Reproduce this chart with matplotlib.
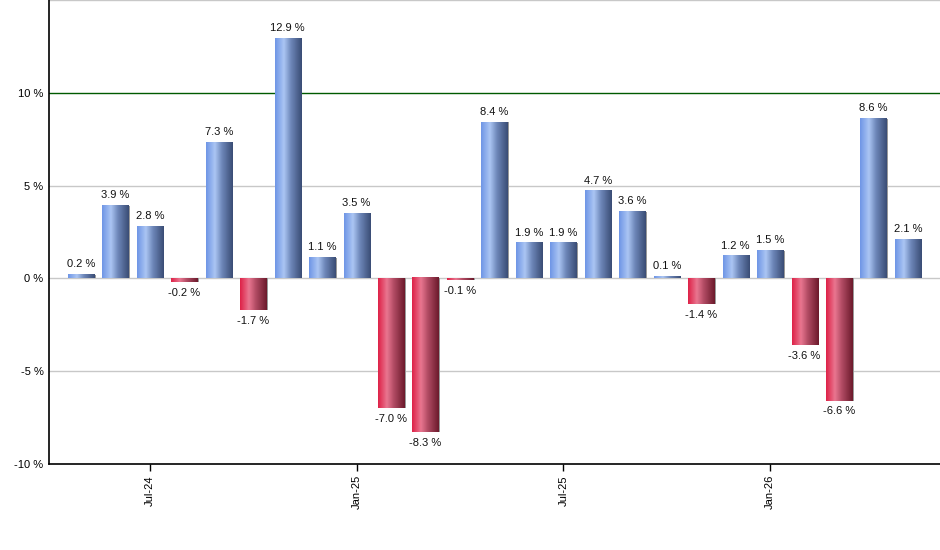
import matplotlib
matplotlib.use("Agg")
import matplotlib.pyplot as plt
import numpy as np
from matplotlib.colors import LinearSegmentedColormap

months = ["May-24", "Jun-24", "Jul-24", "Aug-24", "Sep-24", "Oct-24", "Nov-24", "Dec-24",
          "Jan-25", "Feb-25", "Mar-25", "Apr-25", "May-25", "Jun-25", "Jul-25", "Aug-25",
          "Sep-25", "Oct-25", "Nov-25", "Dec-25", "Jan-26", "Feb-26", "Mar-26", "Apr-26", "May-26"]
returns = [0.2, 3.9, 2.8, -0.2, 7.3, -1.7, 12.9, 1.1, 3.5, -7.0, -8.3, -0.1, 8.4,
           1.9, 1.9, 4.7, 3.6, 0.1, -1.4, 1.2, 1.5, -3.6, -6.6, 8.6, 2.1]
tick_months = ["Jul-24", "Jan-25", "Jul-25", "Jan-26"]
y_ticks = [-10, -5, 0, 5, 10]

plt.rcParams['font.family'] = ['Liberation Sans', 'DejaVu Sans']
FS = 8

fig = plt.figure(figsize=(9.4, 5.5), dpi=100)
ax = fig.add_axes([49/940, 86/550, 1 - 49/940, 1 - 86/550])

blue_cmap = LinearSegmentedColormap.from_list(
    "b", [(0, "#6f96e6"), (0.33, "#abc5f3"), (0.6, "#6d86b8"), (1, "#3a4d75")])
red_cmap = LinearSegmentedColormap.from_list(
    "r", [(0, "#de2248"), (0.33, "#e97690"), (0.6, "#b04a62"), (1, "#6c1a2c")])

grad = np.linspace(0, 1, 64).reshape(1, -1)
w = 0.76
x = np.arange(len(returns))
for xi, v in zip(x, returns):
    cmap = blue_cmap if v >= 0 else red_cmap
    lo, hi = (0, v) if v >= 0 else (v, 0)
    # shadow
    ax.add_patch(plt.Rectangle((xi - w/2 + 0.04, lo), w, hi - lo,
                               facecolor="#9a9a9a", edgecolor="none", zorder=2))
    ax.imshow(grad, cmap=cmap, aspect="auto",
              extent=(xi - w/2, xi + w/2, lo, hi), zorder=3, interpolation="bilinear")
    if v >= 0:
        ax.annotate(f"{v:.1f} %", (xi, v), xytext=(0, 4), textcoords="offset points",
                    ha="center", va="bottom", fontsize=FS, color="#111111")
    else:
        ax.annotate(f"{v:.1f} %", (xi, v), xytext=(0, -4), textcoords="offset points",
                    ha="center", va="top", fontsize=FS, color="#111111")

ax.set_xlim(-0.93, len(returns) - 0.07)
ax.set_ylim(-10, 15)

for g in [-5, 0, 5, 15]:
    ax.axhline(g, color="#c8c8c8", linewidth=1, zorder=1)
ax.axhline(10, color="#005a00", linewidth=1, zorder=1)

ax.set_yticks(y_ticks)
ax.set_yticklabels([f"{t} %" for t in y_ticks])
ax.tick_params(axis="y", length=0, labelsize=FS, pad=4)

ax.set_xticks([months.index(m) for m in tick_months])
ax.set_xticklabels(tick_months, rotation=90)
ax.tick_params(axis="x", length=5, width=1, labelsize=FS, direction="out", pad=3)

for s in ["top", "right"]:
    ax.spines[s].set_visible(False)
ax.spines["left"].set_linewidth(1.2)
ax.spines["bottom"].set_linewidth(1.2)

fig.savefig("out.png", dpi=100)
